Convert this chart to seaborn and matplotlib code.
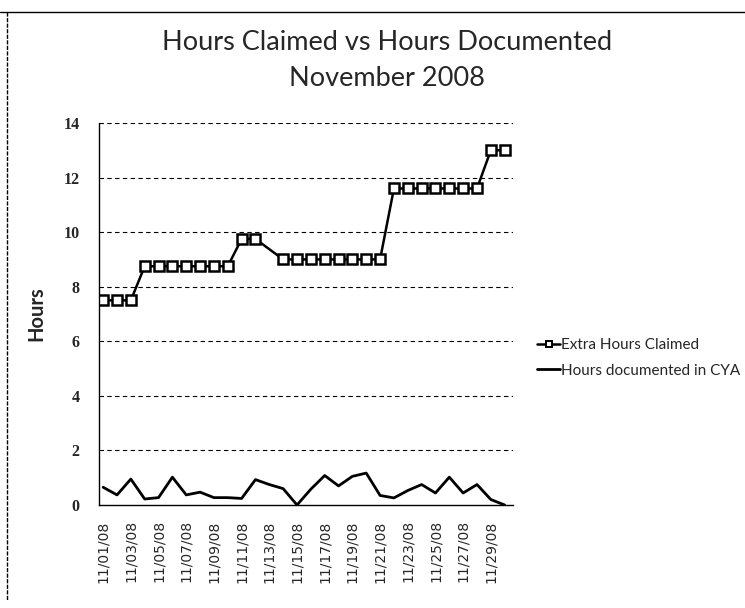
import matplotlib
matplotlib.use("Agg")
import matplotlib.pyplot as plt
import seaborn as sns
import pandas as pd
import numpy as np
from matplotlib.lines import Line2D

dates = ["11/01/08", "11/02/08", "11/03/08", "11/04/08", "11/05/08", "11/06/08",
         "11/07/08", "11/08/08", "11/09/08", "11/10/08", "11/11/08", "11/12/08",
         "11/13/08", "11/14/08", "11/15/08", "11/16/08", "11/17/08", "11/18/08",
         "11/19/08", "11/20/08", "11/21/08", "11/22/08", "11/23/08", "11/24/08",
         "11/25/08", "11/26/08", "11/27/08", "11/28/08", "11/29/08", "11/30/08"]

extra_claimed = [7.5, 7.5, 7.5, 8.75, 8.75, 8.75, 8.75, 8.75, 8.75, 8.75,
                 9.75, 9.75, None, 9.0, 9.0, 9.0, 9.0, 9.0, 9.0, 9.0,
                 9.0, 11.6, 11.6, 11.6, 11.6, 11.6, 11.6, 11.6, 13.0, 13.0]

documented = [0.65, 0.37, 0.95, 0.22, 0.27, 1.02, 0.37, 0.47, 0.27, 0.27,
              0.24, 0.93, 0.75, 0.6, 0.0, 0.58, 1.08, 0.7, 1.05, 1.17,
              0.35, 0.26, 0.53, 0.75, 0.44, 1.02, 0.44, 0.75, 0.2, 0.0]

series_names = ["Extra Hours Claimed", "Hours documented in CYA"]

sns.set_style("white")
plt.rcParams["font.family"] = ["Lato", "DejaVu Sans"]

fig = plt.figure(figsize=(7.45, 6.08), dpi=100)
ax = fig.add_axes([99 / 745, 1 - 505 / 608, 414 / 745, 382 / 608])

pos = list(range(len(dates)))
df_claim = pd.DataFrame({"pos": pos, "hours": extra_claimed}).dropna()
df_doc = pd.DataFrame({"pos": pos, "hours": documented})

sns.lineplot(data=df_claim, x="pos", y="hours", ax=ax, color="black", linewidth=1.8,
             marker="s", markersize=6.5, markerfacecolor="white", markeredgecolor="black",
             markeredgewidth=1.8, estimator=None, sort=False)
sns.lineplot(data=df_doc, x="pos", y="hours", ax=ax, color="black", linewidth=2.0,
             estimator=None, sort=False)

ax.set_xlim(-0.3, 29.6)
ax.set_ylim(0, 14)
ax.set_yticks(range(0, 15, 2))
ax.set_yticklabels([str(v) for v in range(0, 15, 2)], family="Liberation Serif",
                   fontsize=11.5, fontweight="bold")
ax.set_xticks(pos[::2])
ax.set_xticklabels(dates[::2], rotation=90, fontsize=10, family="DejaVu Sans")
ax.tick_params(axis="y", length=0, pad=14)
ax.tick_params(axis="x", length=0, pad=11)

for v in range(2, 15, 2):
    ax.axhline(v, color="black", linewidth=0.8, linestyle=(0, (4, 3)), zorder=0)

for s in ["top", "right"]:
    ax.spines[s].set_visible(False)
ax.spines["left"].set_color("black")
ax.spines["left"].set_linewidth(1.0)
ax.spines["left"].set_linestyle((0, (2, 1)))
ax.spines["bottom"].set_color("black")
ax.spines["bottom"].set_linewidth(1.0)

ax.set_xlabel("")
ax.set_ylabel("Hours", fontsize=14.5, fontweight="bold", labelpad=12)

fig.text(0.52, 1 - 42 / 608, "Hours Claimed vs Hours Documented", ha="center",
         va="center", fontsize=19.5)
fig.text(0.52, 1 - 79 / 608, "November 2008", ha="center", va="center", fontsize=19.5)

handles = [
    Line2D([0], [0], color="black", linewidth=1.8, marker="s", markersize=5,
           markerfacecolor="white", markeredgecolor="black", markeredgewidth=1.4),
    Line2D([0], [0], color="black", linewidth=2.0),
]
fig.legend(handles, series_names, loc="center left", bbox_to_anchor=(0.721, 1 - 358 / 608),
           frameon=False, fontsize=11, handlelength=1.5, handletextpad=0.05,
           labelspacing=0.75, borderaxespad=0, borderpad=0)

# chart border (top and left, as in scanned original)
fig.add_artist(Line2D([0, 1], [1 - 12 / 608, 1 - 12 / 608], transform=fig.transFigure,
                      color="black", linewidth=1.0))
fig.add_artist(Line2D([7 / 745, 7 / 745], [1 - 12 / 608, 1 - 600 / 608],
                      transform=fig.transFigure, color="black", linewidth=1.0,
                      linestyle=(0, (3, 1))))

fig.savefig("out.png", dpi=100)
